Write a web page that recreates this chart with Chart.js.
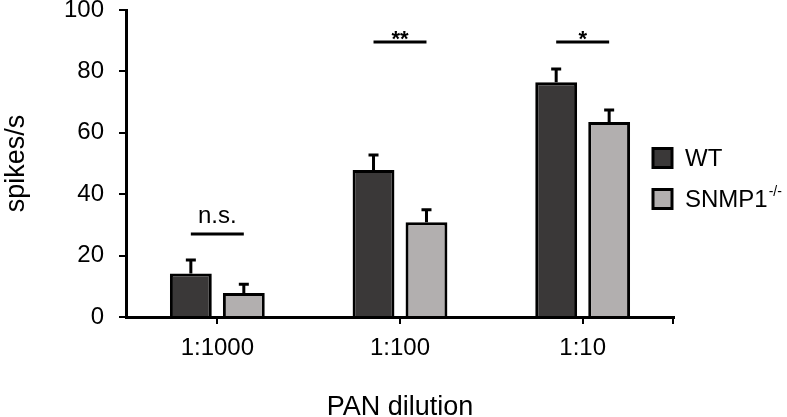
<!DOCTYPE html>
<html>
<head>
<meta charset="utf-8">
<script src="https://cdn.jsdelivr.net/npm/chart.js@4/dist/chart.umd.min.js"></script>
<style>
  html, body { margin: 0; padding: 0; background: #fff; }
  #chart { display: block; }
</style>
</head>
<body>
<canvas id="chart" width="787" height="417"></canvas>
<script>
// Data
const dilutions = ['1:1000', '1:100', '1:10'];
const wtMeans = [14.2, 47.9, 76.5];
const wtErrors = [4.4, 4.9, 4.3];
const snmpMeans = [7.8, 30.9, 63.5];
const snmpErrors = [2.9, 4.0, 3.9];
const yTicks = [0, 20, 40, 60, 80, 100];
const sigLabels = ['n.s.', '**', '*'];
const sigLevels = [27, 89.6, 89.6];

const FONT = '"Liberation Sans", Arial, Helvetica, sans-serif';
const WT_COLOR = '#3a3838';
const SNMP_COLOR = '#b2afaf';

Chart.defaults.font.family = FONT;
Chart.defaults.color = '#000';

// error bars on top of each bar
const errorBarPlugin = {
    id: 'errorBars',
    afterDatasetsDraw(chart) {
        const ctx = chart.ctx;
        const y = chart.scales.y;
        ctx.save();
        ctx.strokeStyle = '#000';
        ctx.lineWidth = 3;
        chart.data.datasets.forEach((ds, i) => {
            chart.getDatasetMeta(i).data.forEach((bar, j) => {
                const top = y.getPixelForValue(ds.data[j] + ds.errors[j]);
                ctx.beginPath();
                ctx.moveTo(bar.x, bar.y);
                ctx.lineTo(bar.x, top);
                ctx.moveTo(bar.x - 5, top);
                ctx.lineTo(bar.x + 5, top);
                ctx.stroke();
            });
        });
        ctx.restore();
    }
};

// significance lines and labels
const significancePlugin = {
    id: 'significance',
    afterDatasetsDraw(chart) {
        const ctx = chart.ctx;
        const y = chart.scales.y;
        const a = chart.getDatasetMeta(0).data;
        const b = chart.getDatasetMeta(1).data;
        ctx.save();
        ctx.strokeStyle = '#000';
        ctx.fillStyle = '#000';
        ctx.lineWidth = 3;
        ctx.textAlign = 'center';
        ctx.textBaseline = 'alphabetic';
        sigLabels.forEach((label, i) => {
            const ly = y.getPixelForValue(sigLevels[i]);
            ctx.beginPath();
            ctx.moveTo(a[i].x, ly);
            ctx.lineTo(b[i].x, ly);
            ctx.stroke();
            const isStar = label.indexOf('*') >= 0;
            ctx.font = (isStar ? 'bold 22px ' : '24px ') + FONT;
            ctx.fillText(label, (a[i].x + b[i].x) / 2, ly + (isStar ? 4 : -11));
        });
        // small end tick at the right of the x axis
        const area = chart.chartArea;
        ctx.beginPath();
        ctx.moveTo(area.right - 1, area.bottom);
        ctx.lineTo(area.right - 1, area.bottom + 7);
        ctx.lineWidth = 2;
        ctx.stroke();
        ctx.restore();
    }
};

// legend on the right
const legendPlugin = {
    id: 'sideLegend',
    afterDraw(chart) {
        const ctx = chart.ctx;
        const x = chart.chartArea.right - 21;
        const rows = [158, 199];
        ctx.save();
        chart.data.datasets.forEach((ds, i) => {
            const cy = rows[i];
            ctx.fillStyle = ds.backgroundColor;
            ctx.fillRect(x, cy - 9.5, 19, 19);
            ctx.strokeStyle = '#000';
            ctx.lineWidth = 3;
            ctx.strokeRect(x, cy - 9.5, 19, 19);
            ctx.fillStyle = '#000';
            ctx.textAlign = 'left';
            ctx.textBaseline = 'middle';
            ctx.font = '24px ' + FONT;
            ctx.fillText(ds.label, x + 32, cy + 1);
            if (ds.sup) {
                const w = ctx.measureText(ds.label).width;
                ctx.font = '14px ' + FONT;
                ctx.fillText(ds.sup, x + 33 + w, cy - 7);
            }
        });
        ctx.restore();
    }
};

const chart = new Chart(document.getElementById('chart'), {
    type: 'bar',
    data: {
        labels: dilutions,
        datasets: [{
            label: 'WT',
            data: wtMeans,
            errors: wtErrors,
            backgroundColor: WT_COLOR,
            borderColor: '#000',
            borderWidth: 3
        }, {
            label: 'SNMP1',
            sup: '-/-',
            data: snmpMeans,
            errors: snmpErrors,
            backgroundColor: SNMP_COLOR,
            borderColor: '#000',
            borderWidth: 3
        }]
    },
    options: {
        responsive: false,
        devicePixelRatio: 1,
        animation: false,
        barPercentage: 0.79,
        categoryPercentage: 0.58,
        layout: { padding: { top: 10, right: 113, left: 0, bottom: 0 } },
        plugins: {
            legend: { display: false },
            tooltip: { enabled: false }
        },
        scales: {
            x: {
                grid: { display: true, offset: false, drawOnChartArea: false, tickLength: 7, color: '#000', lineWidth: 2 },
                border: { color: '#000', width: 3 },
                ticks: { font: { size: 24 }, padding: 10, color: '#000' },
                title: { display: true, text: 'PAN dilution', font: { size: 27, lineHeight: 0.7 }, padding: 0, color: '#000' },
                afterFit: s => { s.height = 100; s.paddingLeft = 0; s.paddingRight = 0; }
            },
            y: {
                min: 0,
                max: 100,
                afterBuildTicks: s => { s.ticks = yTicks.map(v => ({ value: v })); },
                grid: { display: true, drawOnChartArea: false, tickLength: 7, color: '#000', lineWidth: 2 },
                border: { color: '#000', width: 3 },
                ticks: { font: { size: 24 }, padding: 15, color: '#000' },
                title: { display: true, text: 'spikes/s', font: { size: 27, lineHeight: 1 }, padding: { top: 3, bottom: 0 }, color: '#000' },
                afterFit: s => { s.width = 126; s.paddingTop = 0; s.paddingBottom = 0; }
            }
        }
    },
    plugins: [errorBarPlugin, significancePlugin, legendPlugin]
});
</script>
</body>
</html>
